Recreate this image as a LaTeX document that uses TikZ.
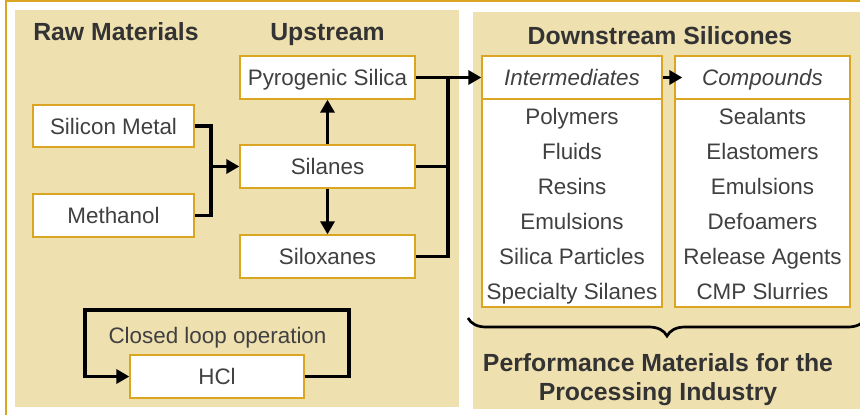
\documentclass[tikz,border=0pt]{standalone}
\usepackage{fontspec}
\setmainfont{Liberation Sans}
\usetikzlibrary{arrows.meta,decorations.pathreplacing}
\definecolor{panel}{RGB}{239,224,176}
\definecolor{gold}{RGB}{218,165,32}
\definecolor{txt}{RGB}{64,64,64}
\definecolor{head}{RGB}{51,51,51}
\begin{document}
\begin{tikzpicture}[x=1pt,y=-1pt,
  box/.style={draw=gold,line width=1.3pt,fill=white,inner sep=0pt,text=txt,
    font=\fontsize{22.4}{25}\selectfont,text height=16pt,text depth=0pt},
  item/.style={inner sep=0pt,text=txt,font=\fontsize{22.4}{25}\selectfont,
    text height=16pt,text depth=0pt},
  heading/.style={inner sep=0pt,text=head,font=\fontsize{24.8}{28}\selectfont\bfseries,
    text height=17.8pt,text depth=0pt},
  conn/.style={line width=3.6pt,black,line join=miter},
  arr/.style={conn,-{Triangle[length=13pt,width=14pt]}}
]
\useasboundingbox (0,0) rectangle (860,415);
% frame and panels
\draw[gold,line width=2pt] (5.8,420) -- (5.8,0.9) -- (870,0.9);
\fill[panel] (15,10) rectangle (459,407);
\fill[panel] (473,12) rectangle (870,409);
% headings
\node[heading] (hraw) at (116,31.5) {Raw Materials};
\node[heading] (hup) at (327.5,31.5) {Upstream};
\node[heading] (hdown) at (660,36) {Downstream Silicones};
\node[heading] (hperf1) at (658,362.5) {Performance Materials for the};
\node[heading] (hperf2) at (658,391.5) {Processing Industry};
% left boxes
\node[box,minimum width=161pt,minimum height=42pt] (sm) at (113.5,126) {Silicon Metal};
\node[box,minimum width=161pt,minimum height=43pt] (me) at (113.5,215.5) {Methanol};
\node[box,minimum width=175pt,minimum height=43pt] (py) at (327.5,77.5) {Pyrogenic Silica};
\node[box,minimum width=175pt,minimum height=43pt] (sil) at (327.5,166.5) {Silanes};
\node[box,minimum width=175pt,minimum height=43pt] (sx) at (327.5,256.5) {Siloxanes};
\node[box,minimum width=174pt,minimum height=43pt] (hcl) at (217,376.5) {HCl};
\node[item] (loop) at (217.5,335) {Closed loop operation};
% right boxes
\node[box,minimum width=180pt,minimum height=208pt] (ib) at (572,203) {};
\node[box,minimum width=180pt,minimum height=43pt,font=\fontsize{22.4}{25}\selectfont\itshape] (ih) at (572,77.5) {Intermediates};
\node[box,minimum width=175pt,minimum height=208pt] (cb) at (762.5,203) {};
\node[box,minimum width=175pt,minimum height=43pt,font=\fontsize{22.4}{25}\selectfont\itshape] (ch) at (762.5,77.5) {Compounds};
\foreach \t [count=\i] in {Polymers,Fluids,Resins,Emulsions,Silica Particles,Specialty Silanes}
  \node[item] (i\i) at (572,{116+35*(\i-1)}) {\t};
\foreach \t [count=\i] in {Sealants,Elastomers,Emulsions,Defoamers,Release Agents,CMP Slurries}
  \node[item] (c\i) at (762.5,{116+35*(\i-1)}) {\t};
% connectors
\coordinate (j) at (211,166.5);
\draw[conn] (sm.east) -| (j) |- (me.east);
\draw[arr] (j) -- (sil.west);
\draw[arr] (sil.north) -- (py.south);
\draw[arr] (sil.south) -- (sx.north);
\coordinate (k) at (448,77.5);
\draw[conn] (sil.east) -| (k);
\draw[conn] (sx.east) -| (k);
\draw[arr] (py.east) -- (ih.west);
\draw[arr] (ih.east) -- ([xshift=8pt]ch.west);
\coordinate (l1) at (349,310);
\coordinate (l2) at (85,310);
\draw[arr] (hcl.east) -| (l1) -- (l2) |- (hcl.west);
% brace
\coordinate (bl) at (468,318);
\coordinate (br) at (866,318);
\draw[line width=2.7pt,decorate,decoration={brace,mirror,amplitude=18pt}] (bl) -- (br);
\end{tikzpicture}
\end{document}
